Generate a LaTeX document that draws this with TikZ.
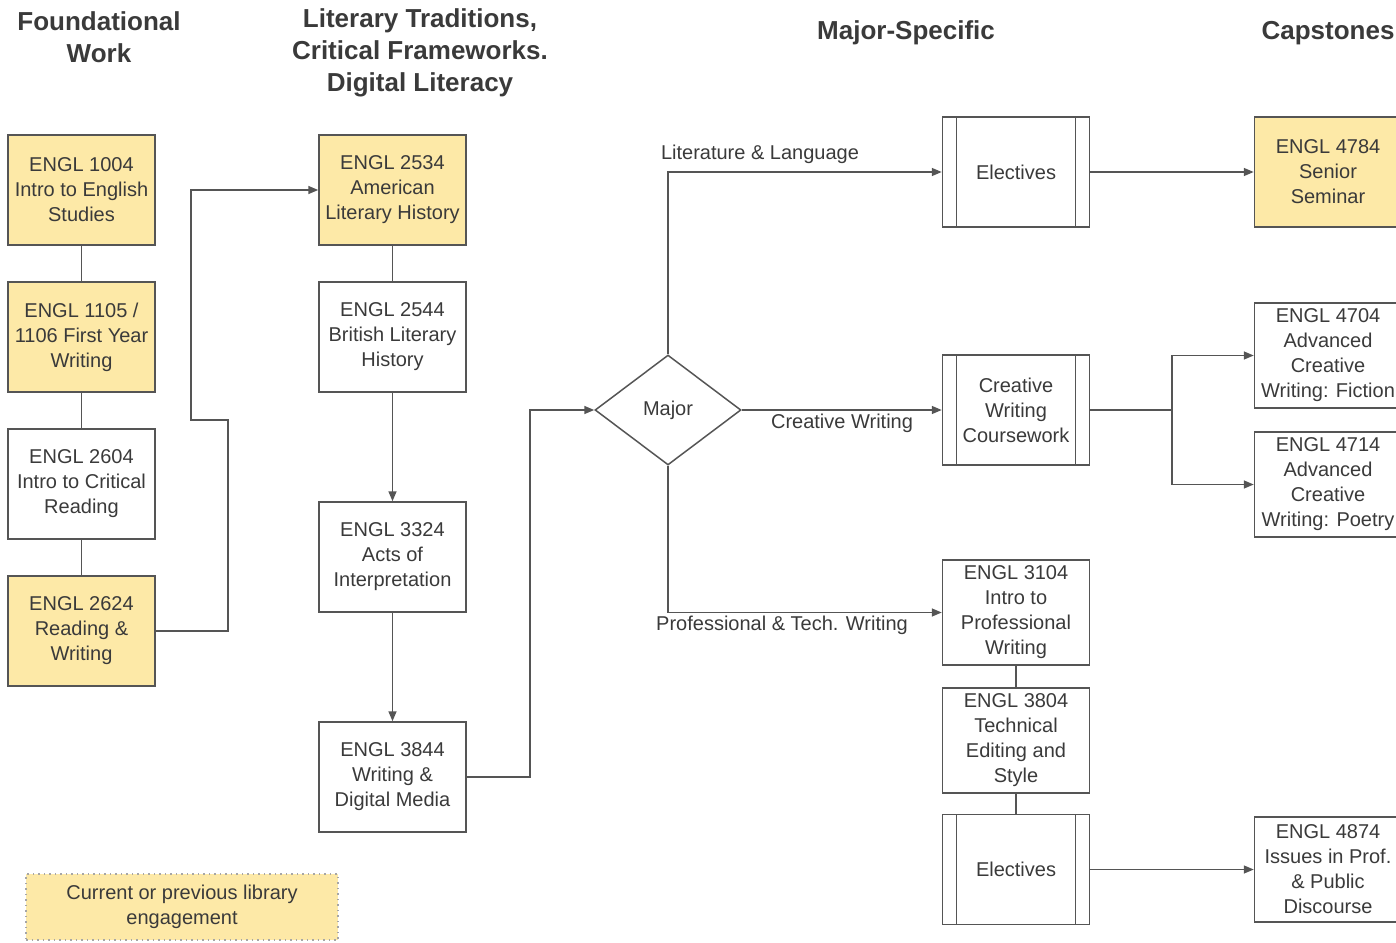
\documentclass[tikz,border=0pt]{standalone}
\usepackage{fontspec}
\setmainfont{Liberation Sans}
\usetikzlibrary{arrows.meta,shapes.geometric}

\definecolor{libyellow}{HTML}{FDE9A7}
\definecolor{edgegray}{HTML}{555555}
\definecolor{txtgray}{HTML}{3A3A3A}

\tikzset{
  course/.style={draw=edgegray, line width=0.75pt, minimum width=73.5pt, minimum height=55pt,
    align=center, inner sep=1pt, text=txtgray, font=\fontsize{10}{12.5}\selectfont},
  lib/.style={course, fill=libyellow},
  short/.style={minimum height=52.5pt},
  procbox/.style={course, path picture={
      \draw[edgegray, line width=0.75pt]
        ([xshift=7pt]path picture bounding box.north west) -- ([xshift=7pt]path picture bounding box.south west)
        ([xshift=-7pt]path picture bounding box.north east) -- ([xshift=-7pt]path picture bounding box.south east);}},
  link/.style={draw=edgegray, line width=0.75pt},
  arr/.style={link, -{Triangle[length=5pt,width=4pt]}},
  hdr/.style={font=\fontsize{13}{16}\selectfont\bfseries, text=txtgray, align=center},
  lbl/.style={font=\fontsize{10}{12}\selectfont, text=txtgray},
}

\begin{document}
\begin{tikzpicture}[x=0.5pt, y=-0.5pt]
    \useasboundingbox (0,0) rectangle (1396,942);

    % Column headings
    \node[hdr] (hFound) at (99,37) {Foundational\\Work};
    \node[hdr] (hLit) at (420,53) {Literary Traditions,\\Critical Frameworks.\\Digital Literacy};
    \node[hdr] (hMajor) at (906,33) {Major-Specific};
    \node[hdr] (hCap) at (1328,33) {Capstones};

    % Foundational work
    \node[lib] (c1004) at (81.5,190) {ENGL 1004\\Intro to English\\Studies};
    \node[lib] (c1105) at (81.5,337) {ENGL 1105 /\\1106 First Year\\Writing};
    \node[course] (c2604) at (81.5,484) {ENGL 2604\\Intro to Critical\\Reading};
    \node[lib] (c2624) at (81.5,631) {ENGL 2624\\Reading \&\\Writing};

    % Literary traditions
    \node[lib] (c2534) at (392.5,190) {ENGL 2534\\American\\Literary History};
    \node[course] (c2544) at (392.5,337) {ENGL 2544\\British Literary\\History};
    \node[course] (c3324) at (392.5,557) {ENGL 3324\\Acts of\\Interpretation};
    \node[course] (c3844) at (392.5,777) {ENGL 3844\\Writing \&\\Digital Media};

    % Decision
    \node[diamond, draw=edgegray, line width=0.75pt, aspect=1.33, minimum width=73pt,
      minimum height=55pt, inner sep=0pt, text=txtgray, font=\fontsize{10}{12}\selectfont]
      (major) at (668,410) {Major};

    % Major-specific
    \node[procbox] (litElec) at (1016,172) {Electives};
    \node[procbox] (cwCourse) at (1016,410) {Creative\\Writing\\Coursework};
    \node[course, short] (c3104) at (1016,612.5) {ENGL 3104\\Intro to\\Professional\\Writing};
    \node[course, short] (c3804) at (1016,740.5) {ENGL 3804\\Technical\\Editing and\\Style};
    \node[procbox] (ptElec) at (1016,869.5) {Electives};

    % Capstones
    \node[lib] (c4784) at (1328,172) {ENGL 4784\\Senior\\Seminar};
    \node[course, short] (c4704) at (1328,355.5) {ENGL 4704\\Advanced\\Creative\\Writing: Fiction};
    \node[course, short] (c4714) at (1328,484.5) {ENGL 4714\\Advanced\\Creative\\Writing: Poetry};
    \node[course, short] (c4874) at (1328,869.5) {ENGL 4874\\Issues in Prof.\\\& Public\\Discourse};

    % Legend
    \node[lib, draw=gray!70, dotted, minimum width=156pt, minimum height=33pt] (legend) at (182,907)
      {Current or previous library\\engagement};

    % Plain links
    \draw[link] (c1004) -- (c1105);
    \draw[link] (c1105) -- (c2604);
    \draw[link] (c2604) -- (c2624);
    \draw[link] (c2534) -- (c2544);
    \draw[link] (c3104) -- (c3804);
    \draw[link] (c3804) -- (ptElec);

    % Arrows
    \draw[arr] (c2624.east) -- (228,631) -- (228,420) -- (191,420) -- (191,190) -- (c2534.west);
    \draw[arr] (c2544) -- (c3324);
    \draw[arr] (c3324) -- (c3844);
    \draw[arr] (c3844.east) -- (530,777) -- (530,410) -- (major.west);

    \draw[arr] (major.north) -- (668,172) -- (litElec.west);
    \draw[arr] (major.east) -- (cwCourse.west);
    \draw[arr] (major.south) -- (668,612.5) -- (c3104.west);

    \draw[arr] (litElec.east) -- (c4784.west);
    \draw[arr] (cwCourse.east) -- (1172,410) -- (1172,355.5) -- (c4704.west);
    \draw[arr] (1172,410) -- (1172,484.5) -- (c4714.west);
    \draw[arr] (ptElec.east) -- (c4874.west);

    % Path labels
    \node[lbl] (lLit) at (760,154) {Literature \& Language};
    \node[lbl] (lCW) at (842,423) {Creative Writing};
    \node[lbl] (lPT) at (782,625) {Professional \& Tech. Writing};

\end{tikzpicture}
\end{document}
